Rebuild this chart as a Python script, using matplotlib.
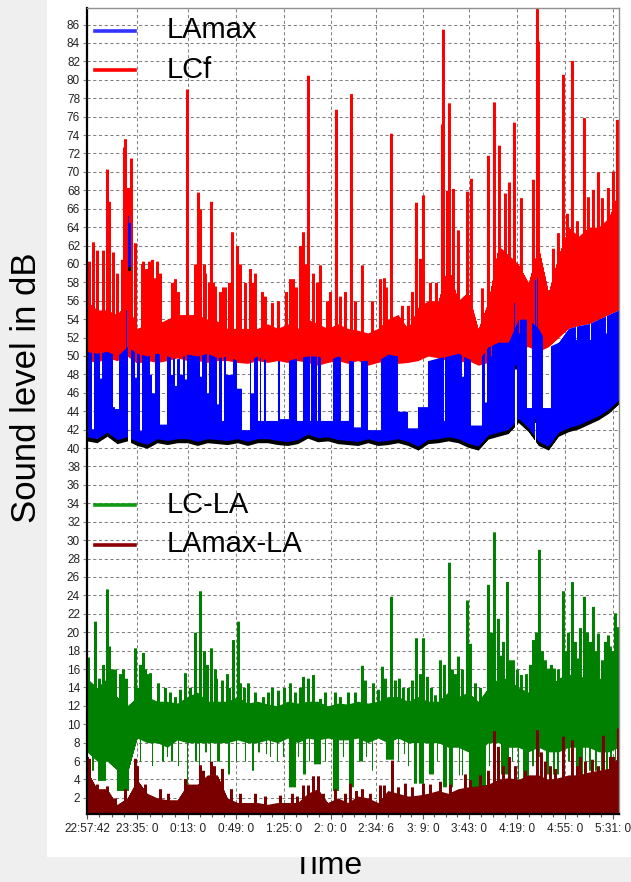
import numpy as np
import matplotlib
matplotlib.use('Agg')
from matplotlib import pyplot as plt
from matplotlib.patches import Rectangle
from matplotlib.lines import Line2D

plt.rcParams['font.family'] = ['Liberation Sans', 'DejaVu Sans']

# time axis: minutes after 22:57:42
tick_pos = [0, 37.3, 75.3, 111.3, 147.3, 182.3, 216.4, 251.3, 285.3, 321.3, 357.3, 393.3]
tick_lbl = ['22:57:42', '23:35: 0', '0:13: 0', '0:49: 0', '1:25: 0', '2: 0: 0',
            '2:34: 6', '3: 9: 0', '3:43: 0', '4:19: 0', '4:55: 0', '5:31: 0']
t_end = 397.8

# slowly varying levels, one value every 7.5 min
t_base = np.arange(0, 398, 7.5)

lcf_top = [56, 55, 55, 54.5, 56, 53, 53.5, 53.5, 54, 54.5,
           54.5, 54.5, 54, 53.8, 53, 53, 53, 53, 53.5, 53,
           53.5, 53, 54, 53.5, 53, 53.5, 53, 52.8, 52.5, 53,
           54, 54.5, 53, 55.3, 56, 56, 60, 56, 57, 53,
           56, 62, 61, 60, 58, 62, 57, 61, 64, 63,
           64, 64, 65, 68]
lcf_bot = [49.5, 49.3, 49.8, 49.5, 50, 49.2, 49.5, 49.3, 49.5, 49.8,
           49.5, 49.5, 49.3, 49.5, 49.5, 49.3, 49.2, 49.5, 49.3, 49.5,
           49.3, 49.5, 49.3, 49, 49.3, 49.5, 49.2, 49.5, 49, 49.3,
           49.5, 49.2, 49.3, 49.5, 50, 49.8, 49.5, 49.3, 49.5, 49,
           49.3, 50.5, 51, 51, 51, 50.5, 51, 52, 53, 53.3,
           53.5, 54, 54.5, 55]
lamax_top = [50.5, 50.3, 50.5, 50, 51, 50.3, 50, 50.3, 50, 49.7,
             50.2, 50, 50.3, 49.8, 50, 49.5, 49.5, 50, 49.5, 49.5,
             49.5, 49.8, 50, 50, 49.5, 50, 49.5, 49.5, 49.5, 49.5,
             50.2, 50, 49.5, 49.5, 49.5, 49.8, 50, 50.3, 49.7, 49.5,
             51, 51.5, 51.5, 54, 54, 53, 51, 51.5, 53, 53.3,
             53.5, 54, 54.5, 55]
la_floor = [41, 40.8, 41.5, 40.7, 41, 40.5, 40.2, 40.8, 40.6, 40.8,
            40.8, 40.5, 40.8, 40.7, 40.6, 40.8, 40.5, 40.8, 40.8, 40.6,
            40.5, 40.7, 41.3, 40.9, 41, 40.7, 40.6, 40.5, 40.8, 40.5,
            40.6, 40.8, 40.5, 40, 40.7, 40.8, 41, 40.8, 40.3, 40,
            41.2, 41.5, 41.8, 43, 42, 40.5, 40, 41.5, 42, 42.3,
            42.8, 43.3, 44, 45]
lcla_top = [15, 14, 15, 13, 12, 13, 13, 12.5, 12.5, 12.3,
            13, 13.5, 12.5, 12.5, 12.5, 13, 12.3, 12.5, 12.2, 12,
            12.5, 12.3, 12.5, 12.5, 12, 12.3, 12.2, 12.5, 12.3, 12.5,
            13, 13, 12.5, 13, 12.5, 12.5, 13.5, 13, 13.5, 12.5,
            14, 15, 15, 14, 13.5, 14.5, 14, 15, 15.5, 15,
            15.5, 15, 15, 16]
lcla_bot = [7, 6, 6, 5, 4.5, 8.5, 8, 8, 7.5, 8.3,
            8, 8, 8, 8, 8, 8.3, 8, 8, 8.3, 8,
            8.5, 8, 8.5, 8.3, 8.5, 8.3, 8.3, 8.5, 8, 8.5,
            8, 8.5, 8, 8, 8, 8, 7.5, 7.5, 7, 7,
            8, 8, 7.5, 7.5, 7, 7.5, 7, 7, 7.5, 7.5,
            7.5, 7, 7, 7.5]
lamaxla_top = [5, 3, 3, 1.3, 2, 4, 2.5, 2, 1.8, 1.8,
               3.5, 3.5, 4.5, 4.5, 2, 1.5, 1.5, 1.5, 1.3, 1.5,
               1.5, 1.5, 2.5, 3, 1.5, 2, 1.5, 2.2, 2, 1.5,
               2.8, 2.5, 2.2, 2.3, 2.5, 2.8, 2.5, 3, 3.2, 3.3,
               3.5, 4, 4.2, 4, 4.5, 4.5, 4, 4.2, 4.5, 4.5,
               4.8, 5, 5.2, 6.5]

# short events: (minute, peak level)
lcf_peaks = [(1.5, 60.3), (4.5, 62.4), (7.5, 61.5), (12, 61.5), (15, 70.3), (16.5, 66.8),
             (19.5, 61.3), (22.4, 59), (26.2, 60.5), (27.7, 72.7), (28.4, 73.6), (30.7, 68.3),
             (32.9, 71.5), (35.9, 62.3), (41.9, 60.3), (44.1, 59.5), (46.4, 60.3), (48.6, 60.5),
             (52.4, 60.3), (65.8, 58.4), (74.8, 79), (83, 67.8), (84.5, 66), (87.5, 60),
             (92.8, 66.8), (95.7, 57.6), (101.7, 57.5), (108.5, 63.5), (112.2, 62), (121.9, 59.5),
             (125.7, 59), (142.9, 56), (151.8, 58.4), (154.1, 58.4), (161.6, 63.5), (165.3, 80.5),
             (169, 59), (174.3, 59.9), (186.3, 76.8), (197.5, 78.5), (205.7, 59.9), (222.2, 58.5),
             (227.4, 74.2), (246.1, 66.7), (249.1, 60.6), (251.3, 67.5), (265.5, 75.2), (266.3, 85.5),
             (269.3, 68), (270.8, 77.5), (273.8, 68.2), (277.5, 63.7), (284.2, 67.9), (287.2, 69.3),
             (295.5, 57.4), (300, 71.8), (304.4, 77.6), (308.2, 72.9), (312.7, 67.7), (315.7, 68.9),
             (319.4, 75.4), (324.6, 67.2), (333.6, 69.2), (336.6, 88.5), (337.3, 84.2), (348.6, 61.7),
             (352.3, 63.4), (356, 80.6), (359, 65.5), (362.8, 82.1), (366.5, 64.7), (371.8, 75.9),
             (374.7, 67.3), (378.5, 68.1), (382.2, 70), (385.2, 67.2), (389.7, 68.3), (393.4, 70.1),
             (396.4, 75.7),
             (41.1, 60), (43.4, 59), (50.9, 58.5), (54.6, 59), (63.6, 58), (68.1, 57), (80.8, 60),
             (88.3, 59), (91.3, 58), (94.2, 58), (99.5, 57), (103.2, 57.5), (106.2, 58), (114.4, 60),
             (118.2, 58), (124.2, 58), (130.9, 57), (133.1, 56.5), (138.4, 55.8), (148.9, 57),
             (156.3, 57.5), (159.3, 62), (163.1, 60), (172, 58), (179.5, 56), (181.8, 57),
             (189.2, 56.5), (193, 57), (200.5, 56), (213.2, 56), (219.2, 58.4), (223.7, 57.5),
             (235.6, 55.5), (240.1, 55.5), (243.1, 57), (256.6, 58), (261, 58)]
lamax_peaks = [(29.2, 55), (30.7, 65.3), (31.8, 64.5), (319.4, 55.8), (335.1, 58.3), (336.6, 58.5)]
lcla_peaks = [(0.7, 17.3), (6, 21.2), (9, 15), (12, 16.5), (15, 24.7), (16.5, 18.5), (18.7, 16),
              (20.9, 16), (24.7, 15.5), (26.9, 16), (29.2, 15), (35.9, 18.3), (38.1, 14), (41.9, 17.8),
              (44.9, 15.5), (47.1, 15.6), (53.1, 14.5), (62.1, 13.5), (65.8, 13), (73.3, 15.6),
              (80.8, 20), (84.5, 24.5), (87.5, 18), (89.8, 16.5), (92.8, 18.3), (96.5, 15), (101, 14.8),
              (106.2, 14), (109.2, 19.2), (112.9, 21.2), (117.4, 14), (120.4, 14.5), (131.6, 13),
              (142.9, 13.7), (147.4, 14), (151.8, 14.5), (161.6, 15.2), (169, 15.4), (174.3, 12.8),
              (185.5, 13.5), (195.2, 13.5), (205.7, 16.4), (213.9, 14.5), (220.7, 16.3), (227.4, 23.9),
              (230.4, 14.8), (236.4, 14), (243.1, 14.8), (246.1, 19.4), (251.3, 19.4), (254.3, 15.2),
              (260.3, 13.2), (264, 17), (270.8, 27.6), (273, 16), (277.5, 17.4), (284.2, 23.5),
              (286.5, 18.8), (300, 25.2), (302.2, 20), (304.4, 30.9), (307.4, 21.5), (314.2, 25.5),
              (316.4, 17), (318.6, 17), (324.6, 15.4), (328.4, 15.5), (333.6, 19.2), (338.1, 29),
              (340.3, 18), (344.8, 16.1), (349.3, 16.1), (356, 24.5), (358.3, 18), (362.8, 25.5),
              (365, 19), (367.3, 17.2), (371.8, 23.9), (374, 20), (378.5, 22.8), (382.2, 19.9),
              (385.2, 17), (389.7, 19.7), (392.7, 18), (394.9, 22.1), (397.2, 20.6),
              (39.6, 16.5), (43.4, 16), (58.3, 14), (69.6, 13.8), (77, 14), (95.7, 16), (104.7, 15.5),
              (114.4, 14.5), (125.7, 13.5), (135.4, 13.5), (138.4, 14), (155.6, 13.5), (159.3, 14),
              (165.3, 15), (178, 13.5), (189.2, 13), (200.5, 13.5), (208, 14.8), (217.7, 13.8),
              (222.9, 15), (233.4, 15), (240.1, 14), (249.1, 15.5), (257.3, 14), (267, 16.5),
              (275.3, 15.5), (280.5, 16), (290.2, 14.5), (294, 14), (308.9, 17.5), (311.2, 19),
              (321.6, 16), (331.4, 16.5), (335.9, 20), (342.6, 17), (347.1, 16.5), (352.3, 16),
              (359.8, 20), (368.8, 20.5), (376.2, 19), (380.7, 18), (387.5, 19), (391.2, 18.5)]
lamaxla_peaks = [(0, 6.5), (1.5, 6.3), (7.5, 3.5), (15, 3.3), (35.9, 6.3), (37.4, 5.5), (73.3, 4.1),
                 (84.5, 5.6), (86.8, 5), (92.8, 6), (95, 5.5), (101, 5.2), (144.4, 2.3), (161.6, 3.4),
                 (165.3, 3.4), (169, 4.4), (172.8, 4.4), (196.7, 3.6), (205.7, 3), (222.2, 3.4),
                 (228.2, 6.1), (237.9, 3.6), (251.3, 3.6), (282.7, 4.6), (304.4, 9.3), (307.4, 7.6),
                 (315.7, 6.5), (336.6, 9.4), (339.6, 7), (356, 8.7), (362.8, 8.3), (368.8, 6.5),
                 (386, 8.8), (391.2, 6.5), (397.2, 9.6),
                 (20.9, 2), (28.4, 3), (43.4, 3.5), (54.6, 3), (60.6, 2.5), (78.5, 3.5), (107.7, 3),
                 (114.4, 2.5), (125.7, 2.5), (133.1, 2.2), (153.3, 2.5), (157, 2.2), (176.5, 2.5),
                 (185.5, 3), (193, 2.5), (201.2, 2.8), (211.7, 2.5), (219.2, 3.4), (232.6, 3.2),
                 (243.1, 3.2), (256.6, 3.5), (264, 3.8), (271.5, 3.5), (286.5, 4), (294, 4.5),
                 (300, 5), (311.2, 5.5), (320.2, 5.5), (327.6, 5), (342.6, 6), (346.3, 5.5),
                 (350, 5.2), (366.5, 5.5), (372.5, 6), (377.7, 6.2), (382.2, 5.5), (393.4, 6.5)]

# quiet stretches: (from, to, level reached)
lamax_dips = [(3.0, 4.5, 42.1), (9.0, 10.5, 47.6), (18.7, 20.2, 44.5), (20.9, 23.2, 44.3),
              (35.2, 36.7, 47.7), (38.9, 40.4, 41.9), (41.9, 42.6, 46.8), (46.4, 47.9, 48),
              (48.6, 50.1, 46), (53.9, 59.1, 42.6), (62.1, 64.3, 48), (65.1, 66.6, 46.8),
              (68.8, 71.1, 48), (72.6, 74.1, 47.5), (83.8, 85.3, 47.8), (89, 90.5, 46),
              (96.5, 98, 44.8), (100.2, 101.7, 43), (103.2, 108.5, 48), (111.5, 115.2, 46.5),
              (115.2, 121.2, 42), (121.9, 124.2, 46), (127.2, 128.7, 43), (129.4, 131.6, 43),
              (133.1, 142.1, 43), (143.6, 150.3, 43.2), (157, 160.8, 43), (166.1, 166.8, 43),
              (171.3, 172, 43), (174.3, 183.3, 43), (189.2, 195.2, 43), (199, 204.2, 42.3),
              (209.4, 219.2, 42), (231.9, 239.4, 44), (239.4, 246.8, 42.2), (246.8, 254.3, 44.5),
              (266.3, 267, 43), (279.8, 281.2, 47.8), (286.5, 294.7, 42.5), (297, 298.5, 45),
              (301.4, 302.2, 50), (322.4, 323.1, 52.5), (328.4, 332.1, 44.4), (340.3, 346.3, 44.4),
              (365, 365.8, 51.8), (375.5, 376.2, 51.8), (387.5, 388.2, 52.5)]
lcla_dips = [(3.7, 4.5, 5), (8.2, 13.5, 3.9), (22.4, 30.7, 2.8), (43.4, 44.1, 5), (55.4, 56.9, 6),
             (62.8, 64.3, 6), (74.1, 75.5, 2.8), (80.1, 81.5, 6), (87.5, 89, 7), (97.2, 98.7, 6),
             (104.7, 106.2, 4.6), (122.7, 124.2, 5), (127.2, 128.7, 7), (133.1, 133.9, 6.8),
             (150.3, 155.6, 3.2), (160.8, 163.1, 4.6), (169, 174.3, 5.7), (183.3, 187.7, 2.8),
             (195.2, 199, 3.2), (202.7, 205.7, 6), (222.9, 228.9, 6.2), (236.4, 237.1, 6.8),
             (243.8, 246.1, 3.6), (247.6, 251.3, 3.6), (255.1, 258.8, 4.6), (265.5, 268.5, 3.2),
             (270, 273, 3.2), (277.5, 278.3, 4.5), (285, 297.7, 1.7), (308.9, 314.9, 4.6),
             (321.6, 322.4, 2), (325.4, 329.9, 3.2), (342.6, 344.8, 4.6), (347.8, 349.3, 4.6),
             (350.8, 352.3, 4.6), (365, 370.3, 3.2), (374.7, 376.2, 5), (379.2, 380.7, 5),
             (383.7, 385.2, 5), (387.5, 389, 5),
             (39, 40.2, 6), (48, 49.2, 5.5), (59.2, 60.4, 6.5), (67.5, 68.7, 5.5), (83.2, 84.4, 5.5),
             (91.4, 92.6, 6), (110.9, 112.1, 6), (117.6, 118.8, 6), (136.3, 137.5, 6.5),
             (141.5, 142.7, 6), (146, 147.2, 6.5), (157.2, 158.4, 6.5), (165.4, 166.6, 6),
             (177.4, 178.6, 6), (190.9, 192.1, 6.5), (208.1, 209.3, 6.5), (212.6, 213.8, 5),
             (232, 233.2, 6), (239.5, 240.7, 5.5), (261.2, 262.4, 6), (279.9, 281.1, 4.5),
             (300.1, 301.3, 5.5), (304.6, 305.8, 6), (317.3, 318.5, 6), (332.3, 333.5, 5.5),
             (336.8, 338, 6.5), (354.7, 355.9, 5.5), (359.2, 360.4, 6), (371.9, 373.1, 5.5),
             (390.6, 391.8, 6), (394.3, 395.5, 5.5)]
# LA jumps during loud events: (from, to, level)
la_jumps = [(30.5, 32.5, 59.5), (319.4, 321, 48.8), (334.5, 335.6, 43)]

# one sample per pixel column
tf = np.arange(0, t_end, 0.7477)


def trace(base, peaks=(), dips=(), jumps=(), half=1.1):
    v = np.interp(tf, t_base, base)
    for t, val in peaks:
        m = np.abs(tf - t) <= half
        v[m] = np.maximum(v[m], val)
    for t0, t1, val in jumps:
        m = (tf >= t0) & (tf <= t1)
        v[m] = np.maximum(v[m], val)
    for t0, t1, val in dips:
        m = (tf >= t0) & (tf <= t1)
        v[m] = np.minimum(v[m], val)
    return v


lcf_hi = trace(lcf_top, lcf_peaks)
lcf_lo = trace(lcf_bot)
la = trace(la_floor, jumps=la_jumps)
lamax_hi = trace(lamax_top, lamax_peaks, lamax_dips, half=0.6)
lcla_hi = trace(lcla_top, lcla_peaks)
lcla_lo = trace(lcla_bot, dips=lcla_dips)
lamaxla_hi = trace(lamaxla_top, lamaxla_peaks)

W, H = 631, 882
fig = plt.figure(figsize=(W / 100, H / 100), dpi=100, facecolor='#efefef')
fig.add_artist(Rectangle((47 / W, 25 / H), 1 - 47 / W, 1 - 25 / H, transform=fig.transFigure,
                         facecolor='white', edgecolor='none', zorder=0.5))
fig.text(327 / W, 1 / H, 'Time', fontsize=23, ha='center', va='bottom', zorder=0.2)
fig.text(27 / W, 1 - 388 / H, 'Sound level in dB', fontsize=25, rotation=90,
         ha='center', va='center', zorder=3)

ax = fig.add_axes([87 / W, 68 / H, 532 / W, 806 / H])
ax.set_zorder(1)

ax.fill_between(tf, lcf_lo, lcf_hi, step='mid', color='#ff0000', lw=0)
ax.fill_between(tf, la, lamax_hi, step='mid', color='#0000ff', lw=0)
# LA drawn as a thin band so the jumps leave no vertical bars
ax.fill_between(tf, la - 0.22, la + 0.22, step='mid', color='black', lw=0)
ax.fill_between(tf, lcla_lo, lcla_hi, step='mid', color='#008000', lw=0)
ax.fill_between(tf, 0, lamaxla_hi, step='mid', color='#7a0000', lw=0)

ax.set_xlim(0, t_end)
ax.set_ylim(0.25, 87.8)
ax.set_yticks(range(2, 87, 2))
ax.set_xticks(tick_pos)
ax.set_xticklabels(tick_lbl)
minor = []
for a, b in zip(tick_pos[:-1], tick_pos[1:]):
    minor += [a + (b - a) * k / 4 for k in (1, 2, 3)]
ax.set_xticks(minor, minor=True)
ax.tick_params(axis='y', length=3, width=0.8, color='#808080', pad=2,
               labelsize=8.5, labelcolor='#222222')
ax.tick_params(axis='x', which='major', length=3.5, width=0.8, color='#555555', pad=3,
               labelsize=8.5, labelcolor='#222222')
ax.tick_params(axis='x', which='minor', length=2, width=0.8, color='#555555')

ax.set_axisbelow(True)
ax.grid(True, which='major', color='#808080', lw=0.75, linestyle=(0, (3, 2.5)))

for side in ('left', 'bottom'):
    ax.spines[side].set_color('black')
    ax.spines[side].set_linewidth(1.6)
for side in ('top', 'right'):
    ax.spines[side].set_color('#909090')
    ax.spines[side].set_linewidth(1.0)

# legends
legend_rows = [('LAmax', '#3333ff', 0.972, 0.963),
               ('LCf', '#ff0000', 0.923, 0.913),
               ('LC-LA', '#119911', 0.383, 0.3734),
               ('LAmax-LA', '#8b0000', 0.3337, 0.325)]
for name, col, y_line, y_txt in legend_rows:
    ax.add_line(Line2D([0.015, 0.090], [y_line, y_line], color=col, lw=2.6,
                       transform=ax.transAxes, zorder=5))
    ax.text(0.150, y_txt, name, fontsize=21, color='black', transform=ax.transAxes,
            ha='left', va='baseline', zorder=5)

fig.savefig('out.png', dpi=100, facecolor=fig.get_facecolor())
